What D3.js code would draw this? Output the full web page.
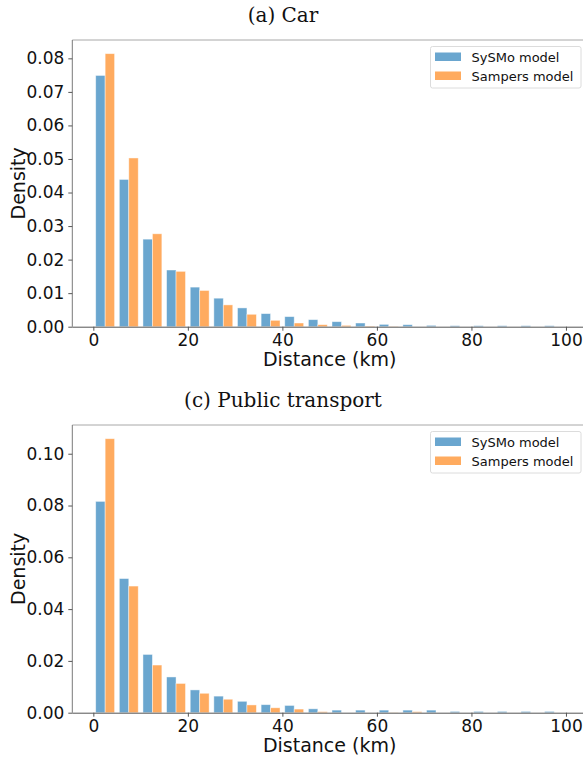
<!DOCTYPE html>
<html>
<head>
<meta charset="utf-8">
<script src="https://cdn.jsdelivr.net/npm/d3@7"></script>
<style>
  html, body { margin: 0; padding: 0; background: #fff; }
  svg { display: block; }
</style>
</head>
<body>
<svg id="chart" width="583" height="757"></svg>
<script>
// Trip distance bins (km): 5 km wide, 0–100
const binEdges = d3.range(0, 100, 5);
const seriesNames = ["SySMo model", "Sampers model"];
const seriesColors = ["#6aa6cf", "#ffab5f"];

// (a) Car — density per bin
const carSysmo = [0.0749, 0.0439, 0.0261, 0.0169, 0.0118, 0.0085, 0.0056, 0.0039, 0.0030, 0.0021,
                  0.0015, 0.0011, 0.0007, 0.0006, 0.0004, 0.0003, 0.0003, 0.0003, 0.0003, 0.0003];
const carSampers = [0.0814, 0.0503, 0.0277, 0.0165, 0.0108, 0.0065, 0.0037, 0.0019, 0.0011, 0.0006,
                    0.0004, 0.0002, 0.0001, 0.0000, 0.0000, 0.0000, 0.0000, 0.0000, 0.0000, 0.0000];

// (c) Public transport — density per bin
const ptSysmo = [0.0816, 0.0518, 0.0225, 0.0138, 0.0088, 0.0064, 0.0044, 0.0031, 0.0028, 0.0015,
                 0.0010, 0.0010, 0.0010, 0.0010, 0.0010, 0.0005, 0.0005, 0.0005, 0.0005, 0.0005];
const ptSampers = [0.1058, 0.0489, 0.0184, 0.0113, 0.0075, 0.0052, 0.0030, 0.0019, 0.0014, 0.0004,
                   0.0000, 0.0000, 0.0001, 0.0004, 0.0000, 0.0000, 0.0000, 0.0000, 0.0000, 0.0000];

const xTicks = [0, 20, 40, 60, 80, 100];
const carYTicks = [0, 0.01, 0.02, 0.03, 0.04, 0.05, 0.06, 0.07, 0.08];
const ptYTicks = [0, 0.02, 0.04, 0.06, 0.08, 0.10];

const panels = [
  { title: "(a) Car", top: 40, bottom: 326.7, titleY: 22, data: [carSysmo, carSampers], yTicks: carYTicks, legendTop: 46.5 },
  { title: "(c) Public transport", top: 425, bottom: 712.7, titleY: 407, data: [ptSysmo, ptSampers], yTicks: ptYTicks, legendTop: 431.5 }
];

const svg = d3.select("#chart");
const left = 72.3, right = 587;
const binW = 5;
const sans = "'DejaVu Sans', sans-serif";

panels.forEach(p => {
  const g = svg.append("g");
  const yMax = d3.max(p.data.flat()) * 1.05;
  const x = d3.scaleLinear().domain([-4.45, 104.45]).range([left, right]);
  const y = d3.scaleLinear().domain([0, yMax]).range([p.bottom, p.top]);

  // Title
  svg.append("text")
    .attr("x", 283).attr("y", p.titleY)
    .attr("text-anchor", "middle")
    .attr("font-family", "'DejaVu Serif', serif")
    .attr("font-size", 20)
    .attr("fill", "#111")
    .text(p.title);

  // Bars: two side-by-side bars per bin, 80% of bin width in total
  const barW = binW * 0.8 / 2;
  p.data.forEach((vals, si) => {
    g.selectAll(null)
      .data(vals.map((v, i) => ({ x0: binEdges[i], v })))
      .join("rect")
      .attr("x", d => x(d.x0 + binW * 0.1 + si * barW))
      .attr("width", d => x(d.x0 + binW * 0.1 + (si + 1) * barW) - x(d.x0 + binW * 0.1 + si * barW))
      .attr("y", d => y(d.v))
      .attr("height", d => p.bottom - y(d.v))
      .attr("fill", seriesColors[si])
      .attr("stroke", "rgba(255,255,255,0.55)")
      .attr("stroke-width", 0.8);
  });

  // Spines
  g.append("line").attr("x1", left).attr("x2", right).attr("y1", p.top).attr("y2", p.top)
    .attr("stroke", "#a8a8a8").attr("stroke-width", 1);
  g.append("line").attr("x1", left).attr("x2", left).attr("y1", p.top).attr("y2", p.bottom)
    .attr("stroke", "#7a7a7a").attr("stroke-width", 1);

  // X axis
  const xAxis = g.append("g")
    .attr("transform", `translate(0,${p.bottom})`)
    .call(d3.axisBottom(x).tickValues(xTicks).tickSize(4).tickPadding(3).tickFormat(d3.format("d")));
  xAxis.select(".domain").attr("stroke", "#555").attr("d", `M${left},0.5H${right}`);
  xAxis.selectAll(".tick line").attr("stroke", "#555");
  xAxis.selectAll("text").attr("font-family", sans).attr("font-size", 17).attr("fill", "#111");

  // Y axis
  const yAxis = g.append("g")
    .attr("transform", `translate(${left},0)`)
    .call(d3.axisLeft(y).tickValues(p.yTicks).tickSize(4).tickPadding(4).tickFormat(d3.format(".2f")));
  yAxis.select(".domain").remove();
  yAxis.selectAll(".tick line").attr("stroke", "#555");
  yAxis.selectAll("text").attr("font-family", sans).attr("font-size", 17).attr("fill", "#111");

  // Axis labels
  svg.append("text")
    .attr("x", (left + right) / 2).attr("y", p.bottom + 39)
    .attr("text-anchor", "middle")
    .attr("font-family", sans).attr("font-size", 19).attr("fill", "#111")
    .text("Distance (km)");
  svg.append("text")
    .attr("transform", `translate(25,${(p.top + p.bottom) / 2}) rotate(-90)`)
    .attr("text-anchor", "middle")
    .attr("font-family", sans).attr("font-size", 19).attr("fill", "#111")
    .text("Density");

  // Legend
  const lg = svg.append("g").attr("transform", `translate(430.5,${p.legendTop})`);
  lg.append("rect").attr("width", 150.5).attr("height", 41.5).attr("rx", 2)
    .attr("fill", "#fff").attr("stroke", "#dcdcdc").attr("stroke-width", 1);
  seriesNames.forEach((name, i) => {
    lg.append("rect").attr("x", 4.5).attr("y", 6 + i * 19).attr("width", 26).attr("height", 8.5)
      .attr("fill", seriesColors[i]);
    lg.append("text").attr("x", 41).attr("y", 15 + i * 19)
      .attr("font-family", sans).attr("font-size", 13).attr("fill", "#111")
      .text(name);
  });
});
</script>
</body>
</html>
